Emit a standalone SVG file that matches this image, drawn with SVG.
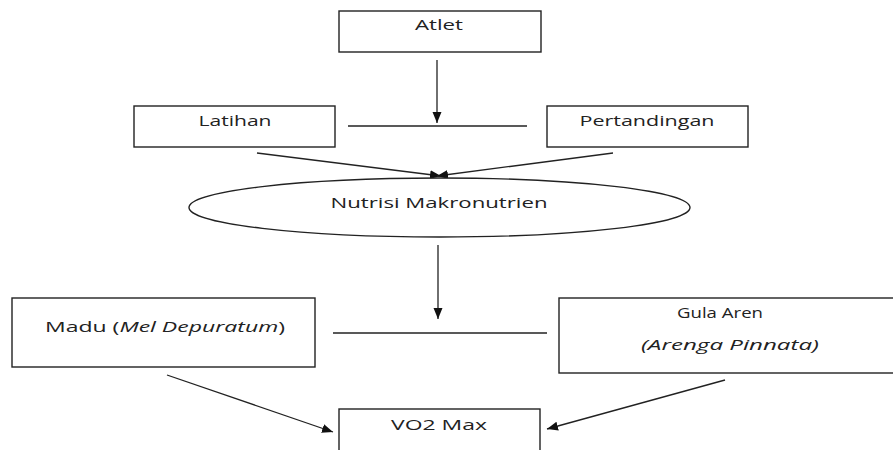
<svg xmlns="http://www.w3.org/2000/svg" width="893" height="450" viewBox="0 0 893 450">
<style>
.box{fill:#fff;stroke:#222;stroke-width:1.4}
.ln{fill:none;stroke:#222;stroke-width:1.3}
.t{font-family:"Open Sans","Liberation Sans",sans-serif;font-size:15px;fill:#222;text-anchor:middle}
.i{font-style:italic}
</style>
<defs>
<marker id="ah" markerUnits="userSpaceOnUse" markerWidth="12" markerHeight="12" viewBox="0 0 12 12" refX="11" refY="6" orient="auto">
<path d="M0,1.5 L11,6 L0,10.5 Z" fill="#111"/>
</marker>
</defs>
<rect width="893" height="450" fill="#fff"/>
<g id="connectors">
<line class="ln" x1="437" y1="60" x2="437" y2="123" marker-end="url(#ah)"/>
<line class="ln" x1="348" y1="126" x2="527" y2="126"/>
<line class="ln" x1="257" y1="153" x2="441" y2="176" marker-end="url(#ah)"/>
<line class="ln" x1="613" y1="153" x2="437" y2="176" marker-end="url(#ah)"/>
<line class="ln" x1="438" y1="245" x2="438" y2="319" marker-end="url(#ah)"/>
<line class="ln" x1="333" y1="333" x2="547" y2="333"/>
<line class="ln" x1="167" y1="375" x2="333" y2="432" marker-end="url(#ah)"/>
<line class="ln" x1="725" y1="380" x2="547" y2="429" marker-end="url(#ah)"/>
</g>
<g id="atlet">
<rect class="box" x="339" y="11" width="202" height="41"/>
<text class="t" x="439" y="30" textLength="48" lengthAdjust="spacingAndGlyphs">Atlet</text>
</g>
<g id="latihan">
<rect class="box" x="134" y="106" width="201" height="41"/>
<text class="t" x="235" y="126" textLength="73" lengthAdjust="spacingAndGlyphs">Latihan</text>
</g>
<g id="pertandingan">
<rect class="box" x="547" y="106" width="201" height="41"/>
<text class="t" x="647" y="126" textLength="135" lengthAdjust="spacingAndGlyphs">Pertandingan</text>
</g>
<g id="nutrisi">
<ellipse class="box" cx="439.5" cy="207.5" rx="250.5" ry="29.5"/>
<text class="t" x="439" y="208" textLength="217" lengthAdjust="spacingAndGlyphs">Nutrisi Makronutrien</text>
</g>
<g id="madu">
<rect class="box" x="12" y="298" width="303" height="69"/>
<text class="t" x="165" y="332" textLength="240" lengthAdjust="spacingAndGlyphs">Madu (<tspan class="i">Mel Depuratum</tspan>)</text>
</g>
<g id="gula">
<rect class="box" x="559" y="298" width="345" height="75"/>
<text class="t" x="720" y="318" textLength="86" lengthAdjust="spacingAndGlyphs">Gula Aren</text>
<text class="t i" x="730" y="350" textLength="178" lengthAdjust="spacingAndGlyphs">(Arenga Pinnata)</text>
</g>
<g id="vo2max">
<rect class="box" x="339" y="409" width="201" height="60"/>
<text class="t" x="439" y="430" textLength="96" lengthAdjust="spacingAndGlyphs">VO2 Max</text>
</g>
</svg>
